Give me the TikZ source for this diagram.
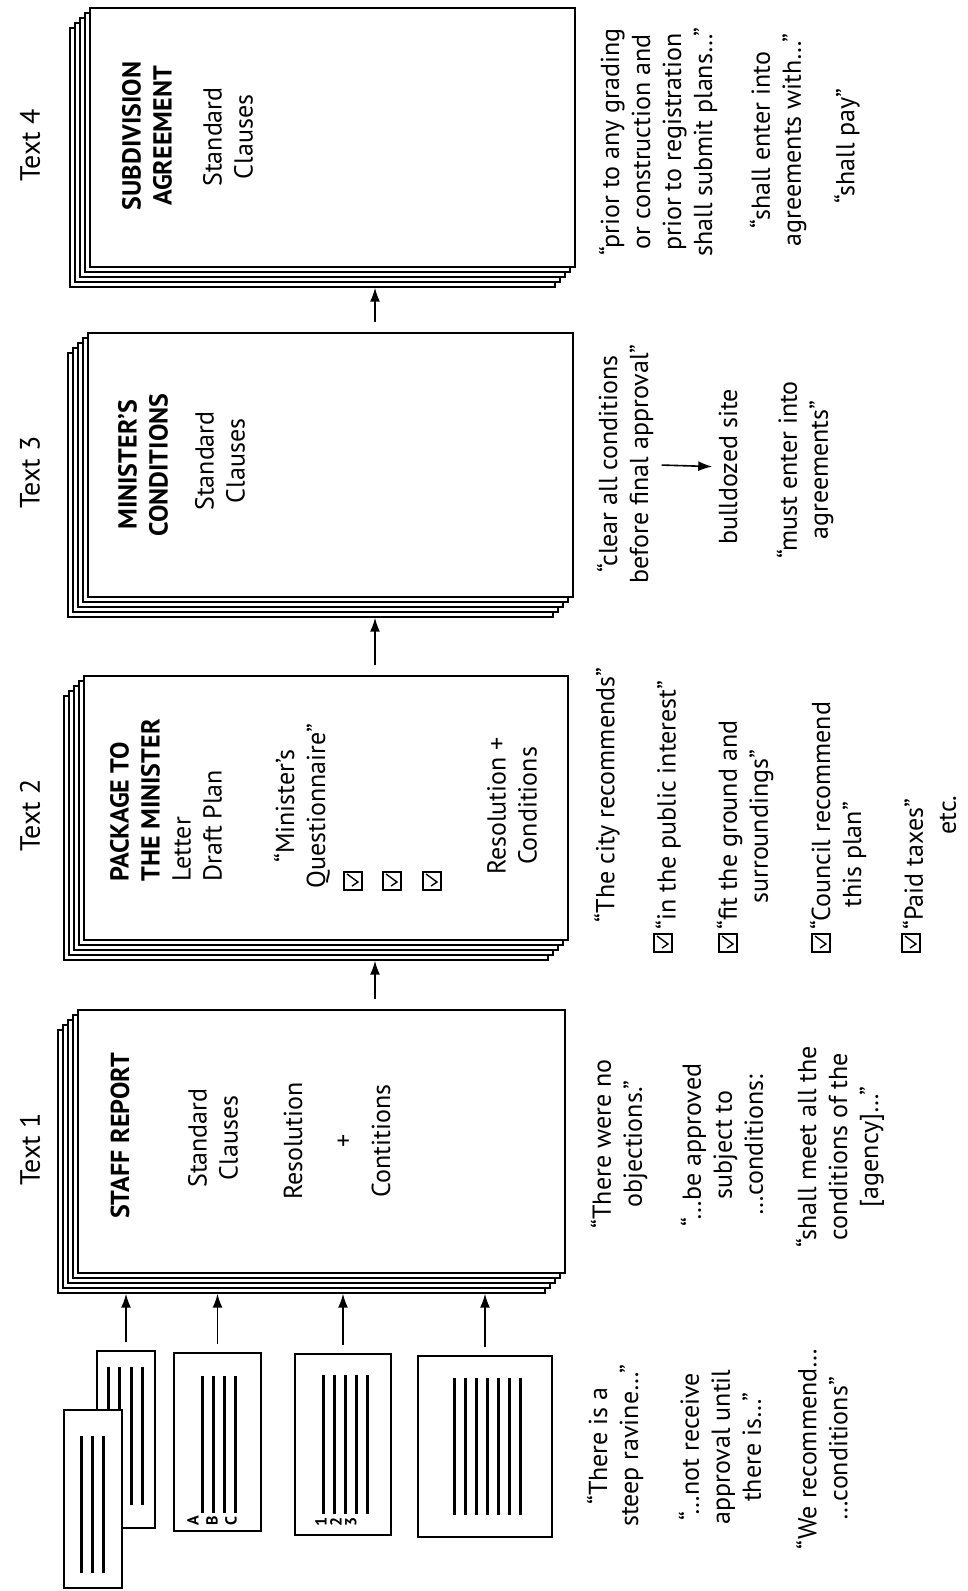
\documentclass[tikz,border=0pt]{standalone}
\usepackage{fontspec}
\setmainfont{PT Sans}
\usetikzlibrary{arrows.meta}
\tikzset{
  sheet/.style={draw, fill=white, line width=0.7pt, inner sep=0pt},
  page/.style={draw, fill=white, line width=1.2pt, inner sep=0pt},
  docline/.style={line width=1.5pt},
  flow/.style={line width=0.8pt, -{Latex[length=7pt,width=5pt]}},
  txt/.style={rotate=90, inner sep=0pt, align=center, font=\fontsize{13}{15.5}\selectfont},
  lefttxt/.style={txt, align=left, anchor=west},
  heading/.style={txt, font=\fontsize{13}{15.5}\selectfont\bfseries},
  texthead/.style={txt, font=\fontsize{14}{16}\selectfont},
  markletter/.style={rotate=90, inner sep=0pt, font=\fontsize{8}{8}\selectfont\bfseries},
  tickbox/.style={draw, line width=0.6pt, minimum size=9pt, inner sep=0pt}
}
% stack of five sheets: name, x0, y0, x1, y1 of the front sheet
\newcommand{\sheetstack}[5]{%
  \foreach \k in {4,3,2,1}
    \node[sheet, minimum width={(#4-#2)*0.5pt}, minimum height={(#5-#3)*0.5pt}]
      (#1-\k) at ({(#2+#4)/2-5*\k},{(#3+#5)/2+5*\k}) {};
  \node[sheet, minimum width={(#4-#2)*0.5pt}, minimum height={(#5-#3)*0.5pt}]
    (#1) at ({(#2+#4)/2},{(#3+#5)/2}) {};
}
% ticked box
\newcommand{\ticked}[3]{%
  \node[tickbox] (#1) at (#2,#3) {};
  \draw[line width=0.7pt] ([shift={(-1,5)}]#1.center) -- ++(6,-4) -- ++(-11,-8);
}

\begin{document}
\begin{tikzpicture}[x=0.5pt, y=-0.5pt]
    \useasboundingbox (0,0) rectangle (968,1591);
    \coordinate (spine) at (375,0);

    % the four texts
    \node[texthead] (t4) at (30,145) {Text 4};
    \node[texthead] (t3) at (30,472) {Text 3};
    \node[texthead] (t2) at (30,815) {Text 2};
    \node[texthead] (t1) at (30,1149) {Text 1};

    \sheetstack{st4}{90}{8}{575}{267}
    \sheetstack{st3}{88}{333}{573}{597}
    \sheetstack{st2}{84}{676}{568}{940}
    \sheetstack{st1}{78}{1010}{565}{1273}

    \draw[flow, shorten <=5pt] (st3.north -| spine) -- (st4-4.south -| spine);
    \draw[flow, shorten <=5pt] (st2.north -| spine) -- (st3-4.south -| spine);
    \draw[flow, shorten <=5pt] (st1.north -| spine) -- (st2-4.south -| spine);

    % Text 4
    \node[heading] (subdiv) at (147,136) {SUBDIVISION\\AGREEMENT};
    \node[txt] (std4) at (228,137) {Standard\\Clauses};
    \node[txt] (q4a) at (658,142) {“prior to any grading\\or construction and\\prior to registration\\shall submit plans…”};
    \node[txt] (q4b) at (778,140) {“shall enter into\\agreements with…”};
    \node[txt] (q4c) at (847,146) {“shall pay”};

    % Text 3
    \node[heading] (mincond) at (143,465) {MINISTER’S\\CONDITIONS};
    \node[txt] (std3) at (220,461) {Standard\\Clauses};
    \node[txt] (q3a) at (625,464) {“clear all conditions\\before final approval”};
    \node[txt] (q3b) at (728,467) {bulldozed site};
    \node[txt] (q3c) at (805,470) {“must enter into\\agreements”};
    \draw[flow, shorten <=4pt, shorten >=3pt] (q3a) -- (q3b);

    % Text 2
    \node[lefttxt] (pkg) at (166,882) {\textbf{PACKAGE TO}\\\textbf{THE MINISTER}\\Letter\\Draft Plan};
    \node[txt] (quest) at (302,806) {“Minister’s\\Questionnaire”};
    \ticked{cb1}{353}{881}
    \ticked{cb2}{392}{881}
    \ticked{cb3}{432}{881}
    \node[txt] (rescond) at (512,806) {Resolution +\\Conditions};
    \node[txt] (q2a) at (607,795) {“The city recommends”};
    \ticked{cq1}{663}{943}
    \node[lefttxt] (q2b) at (668,930) {“in the public interest”};
    \ticked{cq2}{728}{943}
    \node[lefttxt] (q2c) at (745,930) {“fit the ground and\\\hspace*{13pt}surroundings”};
    \ticked{cq3}{821}{943}
    \node[lefttxt] (q2d) at (838,930) {“Council recommend\\\hspace*{11pt}this plan”};
    \ticked{cq4}{911}{943}
    \node[lefttxt] (q2e) at (913,930) {“Paid taxes”};
    \node[txt] (etc) at (948,815) {etc.};

    % Text 1
    \node[heading] (staff) at (120,1136) {STAFF REPORT};
    \node[txt] (std1) at (213,1138) {Standard\\Clauses};
    \node[txt] (resol) at (293,1141) {Resolution};
    \node[txt] (plus) at (345,1141) {+};
    \node[txt] (contit) at (381,1141) {Contitions};
    \node[txt] (q1a) at (619,1144) {“There were no\\objections.”};
    \node[txt] (q1b) at (722,1145) {“…be approved\\subject to\\…conditions:};
    \node[txt] (q1c) at (840,1147) {“shall meet all the\\conditions of the\\{[agency]…”}};

    % source documents
    \node[page, minimum width=29pt, minimum height=88.5pt] (docP) at (126,1439.5) {};
    \foreach \lx in {108,119,131,142}
      \draw[docline] (\lx,1367) -- (\lx,1505);
    \node[page, minimum width=29pt, minimum height=89pt] (docF) at (93,1499) {};
    \foreach \lx in {81,92,103}
      \draw[docline] (\lx,1436) -- (\lx,1573);
    \node[page, minimum width=43.5pt, minimum height=89pt] (docB) at (217.5,1442) {};
    \foreach \lx in {202,213,224,235}
      \draw[docline] (\lx,1376) -- (\lx,1513);
    \node[markletter] (la) at (193,1521) {A};
    \node[markletter] (lb) at (212,1521) {B};
    \node[markletter] (lc) at (231,1521) {C};
    \node[page, minimum width=48pt, minimum height=90.5pt] (docC) at (343,1444.5) {};
    \foreach \lx in {323,334,345,356,367}
      \draw[docline] (\lx,1375) -- (\lx,1514);
    \node[markletter] (l1) at (321,1522) {1};
    \node[markletter] (l2) at (336,1522) {2};
    \node[markletter] (l3) at (351,1522) {3};
    \node[page, minimum width=67pt, minimum height=90.5pt] (docD) at (485,1446.5) {};
    \foreach \lx in {454,465,...,520}
      \draw[docline] (\lx,1378) -- (\lx,1515);

    \draw[flow, shorten <=4pt] (docP.north) -- (docP.north |- st1-4.south);
    \draw[flow, shorten <=4pt] (docB.north) -- (docB.north |- st1-4.south);
    \draw[flow, shorten <=4pt] (docC.north) -- (docC.north |- st1-4.south);
    \draw[flow, shorten <=4pt] (docD.north) -- (docD.north |- st1-4.south);

    \node[txt] (s1) at (615,1446) {“There is a\\steep ravine…”};
    \node[txt] (s2) at (720,1447) {“…not receive\\approval until\\there is…”};
    \node[txt] (s3) at (822,1449) {“We recommend…\\…conditions”};
\end{tikzpicture}
\end{document}
